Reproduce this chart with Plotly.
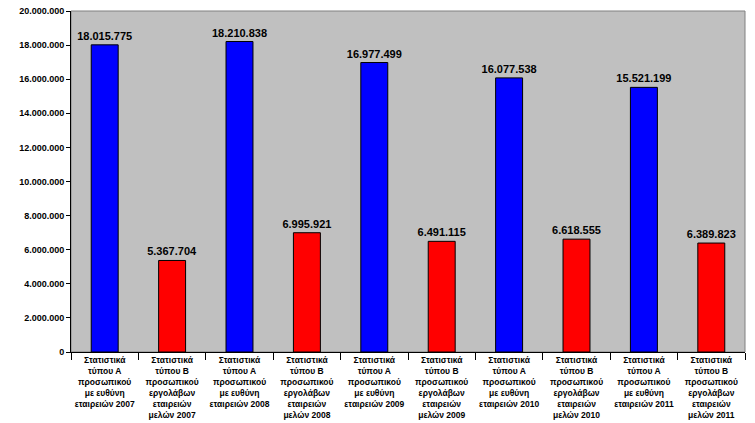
import plotly.graph_objects as go

categories = [
    "Στατιστικά<br>τύπου Α<br>προσωπικού<br>με ευθύνη<br>εταιρειών 2007",
    "Στατιστικά<br>τύπου Β<br>προσωπικού<br>εργολάβων<br>εταιρειών<br>μελών 2007",
    "Στατιστικά<br>τύπου Α<br>προσωπικού<br>με ευθύνη<br>εταιρειών 2008",
    "Στατιστικά<br>τύπου Β<br>προσωπικού<br>εργολάβων<br>εταιρειών<br>μελών 2008",
    "Στατιστικά<br>τύπου Α<br>προσωπικού<br>με ευθύνη<br>εταιρειών 2009",
    "Στατιστικά<br>τύπου Β<br>προσωπικού<br>εργολάβων<br>εταιρειών<br>μελών 2009",
    "Στατιστικά<br>τύπου Α<br>προσωπικού<br>με ευθύνη<br>εταιρειών 2010",
    "Στατιστικά<br>τύπου Β<br>προσωπικού<br>εργολάβων<br>εταιρειών<br>μελών 2010",
    "Στατιστικά<br>τύπου Α<br>προσωπικού<br>με ευθύνη<br>εταιρειών 2011",
    "Στατιστικά<br>τύπου Β<br>προσωπικού<br>εργολάβων<br>εταιρειών<br>μελών 2011",
]
values = [18015775, 5367704, 18210838, 6995921, 16977499,
          6491115, 16077538, 6618555, 15521199, 6389823]
bar_colors = ["#0000FF", "#FF0000"] * 5

y_ticks = list(range(0, 20000001, 2000000))

fig = go.Figure(go.Bar(
    x=categories, y=values,
    marker=dict(color=bar_colors, line=dict(color="#000000", width=1)),
    texttemplate="%{y:,}", textposition="outside", constraintext="none",
    textfont=dict(family="Liberation Sans, Arial", size=11, color="#000000", weight="bold"),
    cliponaxis=False, hoverinfo="skip",
))

fig.update_layout(
    width=755, height=423,
    margin=dict(l=71, r=10, t=11, b=71, autoexpand=False),
    paper_bgcolor="#FFFFFF", plot_bgcolor="#C0C0C0",
    separators=",.",
    bargap=0.6,
    showlegend=False,
    font=dict(family="Liberation Sans, Arial", color="#000000"),
    shapes=[dict(type="rect", xref="paper", yref="paper", x0=0, x1=1, y0=0, y1=1,
                 line=dict(color="#808080", width=1), layer="below")],
)
fig.update_xaxes(
    showline=True, linecolor="#000000", linewidth=1, automargin=False,
    ticks="outside", ticklen=7, tickcolor="#000000", tickson="boundaries",
    tickfont=dict(size=8.5, weight="bold"), showgrid=False, tickangle=0,
)
fig.update_yaxes(
    range=[0, 20000000], tickvals=y_ticks, tickformat=",", automargin=False,
    showline=True, linecolor="#000000", linewidth=1,
    ticks="outside", ticklen=4, tickcolor="#000000",
    tickfont=dict(size=9, weight="bold"), showgrid=False, zeroline=False,
)

fig.write_html(
    "out.html",
    config={"displayModeBar": False, "staticPlot": True},
    post_script="document.body.style.margin='0';document.body.style.padding='0';",
)
